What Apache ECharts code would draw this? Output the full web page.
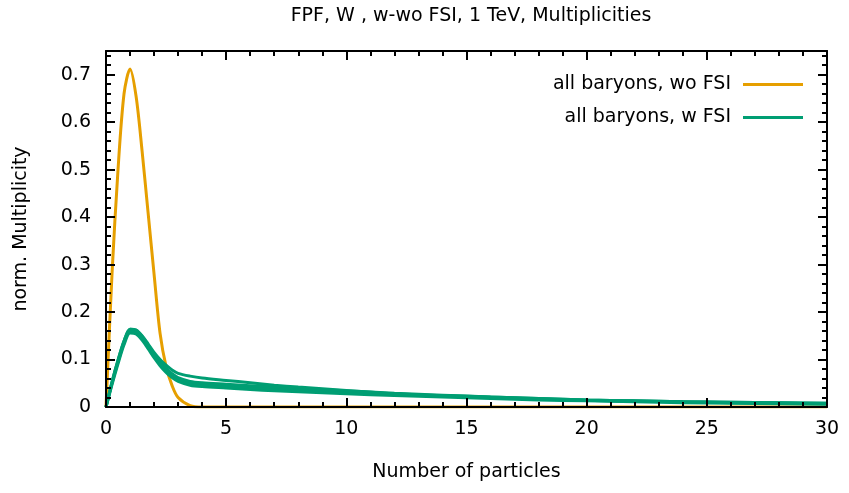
<!DOCTYPE html>
<html>
<head>
<meta charset="utf-8">
<script src="https://cdn.jsdelivr.net/npm/echarts@6/dist/echarts.min.js"></script>
<style>html,body{margin:0;padding:0;background:#fff}#c{width:849px;height:493px}</style>
</head>
<body>
<div id="c"></div>
<script>
const xs = [0,0.25,0.5,0.75,1,1.25,1.5,1.75,2,2.25,2.5,2.75,3,3.5,4,5,6,7,8,10,12,14,16,18,20,22,24,26,28,30];
const woFSI = [0,0.28,0.50,0.66,0.712,0.655,0.54,0.41,0.28,0.155,0.085,0.045,0.02,0.003,0,0,0,0,0,0,0,0,0,0,0,0,0,0,0,0];
const wFSI_1 = [0,0.052,0.098,0.139,0.164,0.162,0.150,0.133,0.115,0.100,0.088,0.078,0.071,0.065,0.061,0.056,0.051,0.046,0.042,0.035,0.028,0.024,0.021,0.018,0.015,0.013,0.011,0.010,0.009,0.008];
const wFSI_2 = [0,0.053,0.099,0.139,0.164,0.162,0.149,0.131,0.112,0.095,0.081,0.070,0.062,0.054,0.051,0.048,0.045,0.042,0.039,0.034,0.029,0.025,0.021,0.018,0.015,0.013,0.011,0.010,0.009,0.008];
const wFSI_3 = [0,0.050,0.095,0.135,0.160,0.158,0.145,0.127,0.108,0.091,0.077,0.066,0.058,0.050,0.047,0.044,0.041,0.038,0.035,0.031,0.026,0.023,0.020,0.017,0.014,0.012,0.011,0.009,0.008,0.007];
const wFSI_4 = [0,0.047,0.091,0.131,0.156,0.154,0.141,0.123,0.104,0.087,0.073,0.062,0.054,0.046,0.043,0.040,0.037,0.034,0.032,0.028,0.024,0.021,0.018,0.015,0.013,0.011,0.009,0.008,0.007,0.006];
const titleText = 'FPF, W , w-wo FSI, 1 TeV, Multiplicities';
const nameWo = 'all baryons, wo FSI';
const nameW = 'all baryons, w FSI';

const FONT = 'DejaVu Sans';
const FS = 19;
const pair = ys => xs.map((x, i) => [x, ys[i]]);
const lineSeries = (name, ys, color) => ({
  name, type: 'line', data: pair(ys), showSymbol: false, symbol: 'none',
  smooth: 0.3, lineStyle: {color, width: 3}, itemStyle: {color}, z: 2
});
const axisCommon = {
  axisLine: {show: true, onZero: false, lineStyle: {color: '#000', width: 2}},
  axisTick: {show: true, inside: true, length: 9, lineStyle: {color: '#000', width: 2}},
  minorTick: {show: true, splitNumber: 5, length: 5, lineStyle: {color: '#000', width: 2}},
  splitLine: {show: false},
  z: 5
};
const chart = echarts.init(document.getElementById('c'), null, {renderer: 'canvas'});
chart.setOption({
  animation: false,
  backgroundColor: '#fff',
  title: {text: titleText, left: 466, textAlign: 'center', top: 2,
    textStyle: {fontFamily: FONT, fontSize: FS, fontWeight: 'normal', color: '#000'}},
  legend: {
    orient: 'vertical', right: 41, top: 70, align: 'right', itemGap: 14,
    itemWidth: 60, itemHeight: 3, icon: 'rect',
    textStyle: {fontFamily: FONT, fontSize: FS, color: '#000', padding: [0, 7, 0, 0]},
    data: [nameWo, nameW]
  },
  grid: {left: 106, right: 22, top: 51, bottom: 86, containLabel: false},
  xAxis: [
    Object.assign({type: 'value', min: 0, max: 30, interval: 5, position: 'bottom',
      name: 'Number of particles', nameLocation: 'middle', nameGap: 56,
      nameTextStyle: {fontFamily: FONT, fontSize: FS, color: '#000'},
      axisLabel: {fontFamily: FONT, fontSize: FS, color: '#000', margin: 13}}, axisCommon),
    Object.assign({type: 'value', min: 0, max: 30, interval: 5, position: 'top',
      axisLabel: {show: false}}, axisCommon)
  ],
  yAxis: [
    Object.assign({type: 'value', min: 0, max: 0.75, interval: 0.1, position: 'left',
      name: 'norm. Multiplicity', nameLocation: 'middle', nameGap: 75,
      nameTextStyle: {fontFamily: FONT, fontSize: FS, color: '#000'},
      axisLabel: {fontFamily: FONT, fontSize: FS, color: '#000', margin: 15,
        formatter: v => (Math.abs(v - 0.75) < 1e-9 ? '' : (v === 0 ? '0' : v.toFixed(1)))}}, axisCommon),
    Object.assign({type: 'value', min: 0, max: 0.75, interval: 0.1, position: 'right',
      axisLabel: {show: false}}, axisCommon)
  ],
  series: [
    lineSeries(nameWo, woFSI, '#e69f00'),
    lineSeries(nameW, wFSI_4, '#009e73'),
    lineSeries(nameW, wFSI_3, '#009e73'),
    lineSeries(nameW, wFSI_2, '#009e73'),
    lineSeries(nameW, wFSI_1, '#009e73')
  ]
});
</script>
</body>
</html>
